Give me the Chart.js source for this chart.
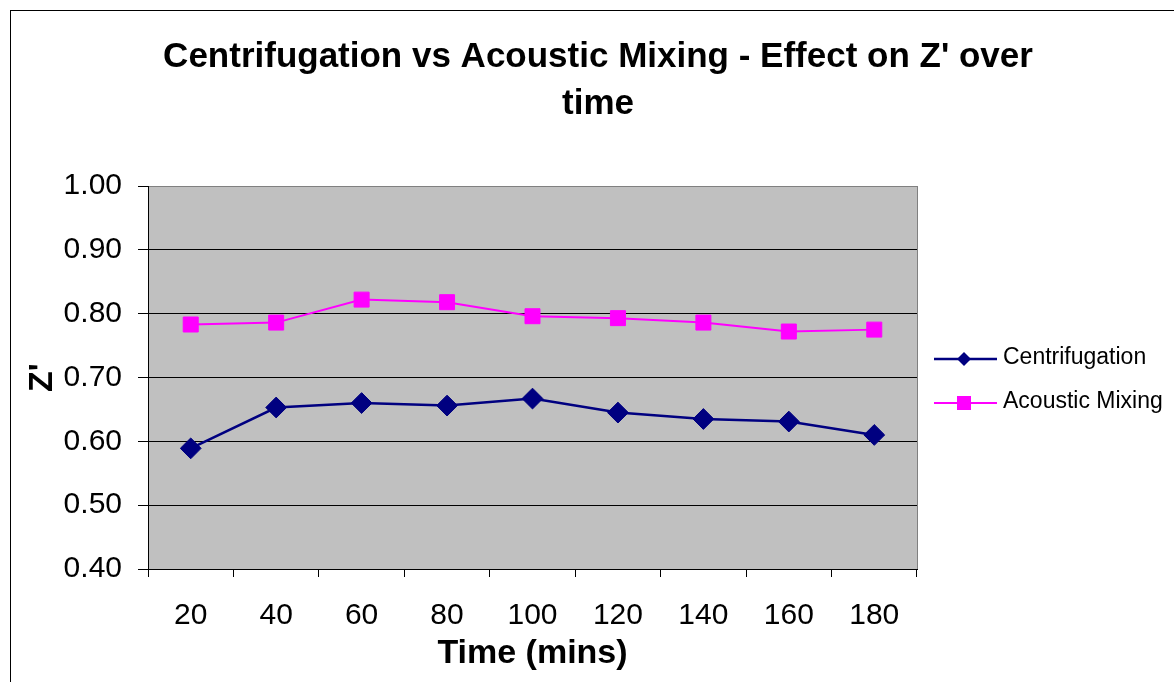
<!DOCTYPE html>
<html><head><meta charset="utf-8">
<script src="https://cdn.jsdelivr.net/npm/chart.js@4.4.1/dist/chart.umd.min.js"></script>
<style>html,body{margin:0;padding:0;background:#fff;}#c{display:block;}</style>
</head><body>
<canvas id="c" width="1174" height="682"></canvas>
<script>
// ---- data ----
const categories = ['20','40','60','80','100','120','140','160','180'];
const centrifugation = [0.589,0.653,0.660,0.656,0.667,0.645,0.635,0.631,0.610];
const acousticMixing = [0.783,0.786,0.822,0.818,0.796,0.793,0.786,0.772,0.775];
const seriesNames = ['Centrifugation','Acoustic Mixing'];
const yMin = 0.40, yMax = 1.00, yStep = 0.10;
const titleLines = ["Centrifugation vs Acoustic Mixing - Effect on Z' over", 'time'];
const xTitle = 'Time (mins)';
const yTitle = "Z'";

const FONT = '"Liberation Sans", Arial, Helvetica, sans-serif';
Chart.defaults.color = '#000';
Chart.defaults.font.family = FONT;

const framePlugin = {
  id: 'frame',
  beforeDraw(chart) {
    const {ctx, chartArea: a} = chart;
    ctx.save();
    ctx.fillStyle = '#fff';
    ctx.fillRect(0, 0, chart.width, chart.height);
    ctx.strokeStyle = '#000';
    ctx.lineWidth = 1;
    ctx.strokeRect(10.5, 10.5, 1400, 1400);
    ctx.fillStyle = '#C0C0C0';
    ctx.fillRect(a.left, a.top, a.right - a.left, a.bottom - a.top);
    // title
    ctx.fillStyle = '#000';
    ctx.font = 'bold 35px ' + FONT;
    ctx.textAlign = 'center';
    ctx.textBaseline = 'middle';
    titleLines.forEach((t, i) => ctx.fillText(t, 598, 57.5 + i * 47));
    ctx.restore();
  },
  beforeDatasetsDraw(chart) {
    const {ctx, chartArea: a} = chart;
    ctx.save();
    ctx.strokeStyle = '#808080';
    ctx.lineWidth = 1;
    ctx.beginPath();
    ctx.moveTo(Math.round(a.right) + 0.5, a.top);
    ctx.lineTo(Math.round(a.right) + 0.5, a.bottom);
    ctx.stroke();
    ctx.restore();
  },
  afterDraw(chart) {
    const ctx = chart.ctx;
    const x0 = chart.chartArea.right + 17;
    chart.data.datasets.forEach((ds, i) => {
      const y = 359 + i * 44;
      ctx.save();
      ctx.strokeStyle = ds.borderColor;
      ctx.lineWidth = ds.borderWidth;
      ctx.beginPath();
      ctx.moveTo(x0, y); ctx.lineTo(x0 + 63, y); ctx.stroke();
      ctx.fillStyle = ds.pointBackgroundColor;
      const mx = x0 + 30;
      ctx.beginPath();
      if (ds.pointStyle === 'rectRot') {
        const r = 7;
        ctx.moveTo(mx - r, y); ctx.lineTo(mx, y - r); ctx.lineTo(mx + r, y); ctx.lineTo(mx, y + r); ctx.closePath();
      } else {
        ctx.rect(mx - 7, y - 7, 14, 14);
      }
      ctx.fill();
      ctx.fillStyle = '#000';
      ctx.font = '23px ' + FONT;
      ctx.textAlign = 'left';
      ctx.textBaseline = 'middle';
      ctx.fillText(ds.label, x0 + 69, y - 1);
      ctx.restore();
    });
  }
};

new Chart(document.getElementById('c'), {
  type: 'line',
  data: {
    labels: categories,
    datasets: [
      {
        label: seriesNames[0], data: centrifugation,
        borderColor: '#000080', backgroundColor: '#000080',
        pointBackgroundColor: '#000080', pointBorderColor: '#000080',
        borderWidth: 2.5, pointStyle: 'rectRot', pointRadius: 10.4, pointBorderWidth: 1,
        tension: 0, fill: false
      },
      {
        label: seriesNames[1], data: acousticMixing,
        borderColor: '#FF00FF', backgroundColor: '#FF00FF',
        pointBackgroundColor: '#FF00FF', pointBorderColor: '#FF00FF',
        borderWidth: 2, pointStyle: 'rect', pointRadius: 10.6, pointBorderWidth: 1,
        tension: 0, fill: false
      }
    ]
  },
  options: {
    responsive: false,
    animation: false,
    devicePixelRatio: 1,
    layout: { padding: { left: 0, right: 257, top: 186, bottom: 0 } },
    plugins: {
      legend: { display: false },
      title: { display: false },
      tooltip: { enabled: false }
    },
    scales: {
      x: {
        type: 'category',
        offset: true,
        grid: { display: true, offset: true, drawOnChartArea: false, drawTicks: true, tickLength: 8, tickColor: '#000' },
        border: { display: true, color: '#000', width: 1 },
        ticks: { font: { size: 30 }, padding: 21, maxRotation: 0, autoSkip: false, color: '#000' },
        title: { display: true, text: xTitle, font: { size: 34, weight: 'bold' }, padding: { top: 0, bottom: 8 }, color: '#000' },
        afterFit(s) { s.height = 113; }
      },
      y: {
        min: yMin, max: yMax,
        grid: {
          color: c => (c.tick && Math.abs(c.tick.value - yMax) < 1e-6) ? '#808080' : '#000',
          tickColor: '#000', tickLength: 10, lineWidth: 1
        },
        border: { display: true, color: '#000', width: 1 },
        ticks: { stepSize: yStep, font: { size: 30 }, padding: 16, color: '#000', callback: v => Number(v).toFixed(2) },
        title: { display: true, text: yTitle, font: { size: 34, weight: 'bold' }, padding: { top: 22, bottom: 0 }, color: '#000' },
        afterFit(s) { s.width = 148; }
      }
    }
  },
  plugins: [framePlugin]
});
</script>
</body></html>
